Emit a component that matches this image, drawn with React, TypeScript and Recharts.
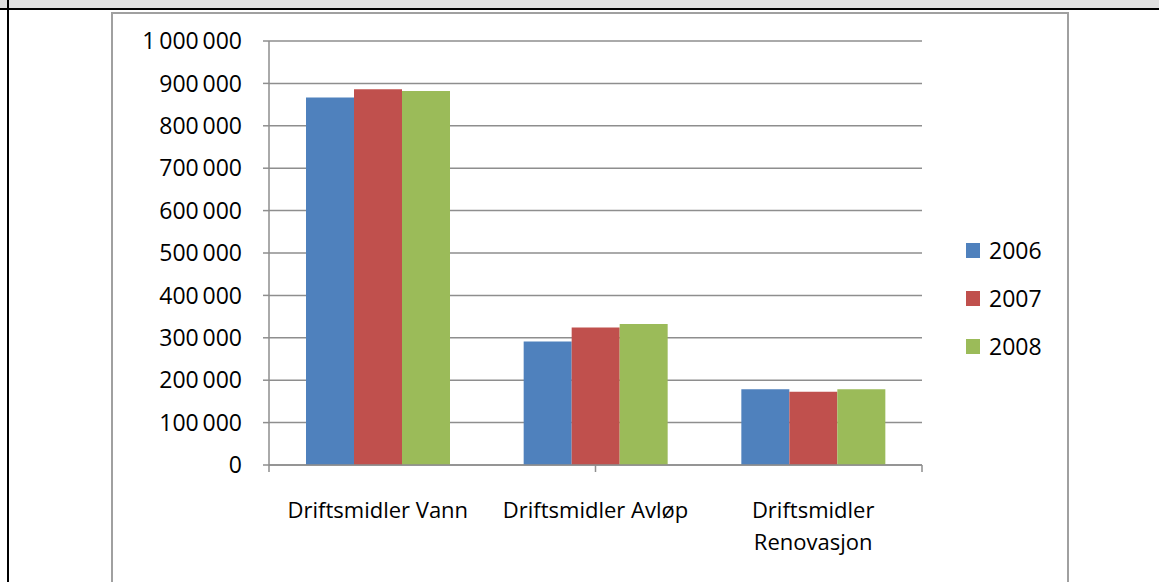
import { Bar, BarChart, CartesianGrid, XAxis, YAxis } from "recharts";

const categories = [
  "Driftsmidler Vann",
  "Driftsmidler Avløp",
  "Driftsmidler Renovasjon",
];
const years = ["2006", "2007", "2008"];
const values2006 = [867000, 291000, 178500];
const values2007 = [886000, 324000, 173000];
const values2008 = [882000, 332500, 178500];
const yTicks = [0, 100000, 200000, 300000, 400000, 500000, 600000, 700000, 800000, 900000, 1000000];
const edgeTicks = [0, 1, 2, 3];

const COLORS = ["#4f81bd", "#c0504d", "#9bbb59"];
const FONT = "'Open Sans', sans-serif";
const GRID = "#8e8e8e";

const rows = categories.map((name, i) => ({
  name,
  y2006: values2006[i],
  y2007: values2007[i],
  y2008: values2008[i],
}));

// thin space as thousands separator, like the Norwegian number format
const formatNumber = (n: number) =>
  String(n).replace(/\B(?=(\d{3})+(?!\d))/g, "\u2009");

const splitLabel = (label: string): string[] => {
  if (label.length <= 20) return [label];
  const cut = label.lastIndexOf(" ");
  return [label.slice(0, cut), label.slice(cut + 1)];
};

const CategoryTick = (props: any) => {
  const { x, y, payload } = props;
  const lines = splitLabel(String(payload.value));
  return (
    <text
      x={x}
      y={y}
      textAnchor="middle"
      fill="#000"
      fontSize={22}
      fontFamily={FONT}
    >
      {lines.map((line, i) => (
        <tspan key={line} x={x} dy={i === 0 ? 52 : 32}>
          {line}
        </tspan>
      ))}
    </text>
  );
};

const EmptyTick = () => <g />;

const YearLegend = () => (
  <div
    style={{
      position: "absolute",
      left: 966,
      top: 226,
      fontFamily: FONT,
      fontSize: 23,
      color: "#000",
    }}
  >
    {years.map((year, i) => (
      <div
        key={year}
        style={{ display: "flex", alignItems: "center", height: 48 }}
      >
        <span
          style={{
            width: 14,
            height: 15,
            background: COLORS[i],
            marginRight: 9,
            display: "inline-block",
          }}
        />
        {year}
      </div>
    ))}
  </div>
);

export default function App() {
  return (
    <div
      style={{
        position: "absolute",
        left: 0,
        top: 0,
        width: 1159,
        height: 582,
        background: "#fff",
        overflow: "hidden",
      }}
    >
      <div
        style={{
          position: "absolute",
          left: 0,
          top: 0,
          width: 1159,
          height: 8,
          background: "#e0e0e0",
        }}
      />
      <div
        style={{
          position: "absolute",
          left: 0,
          top: 8,
          width: 1159,
          height: 2,
          background: "#000",
        }}
      />
      <div
        style={{
          position: "absolute",
          left: 7,
          top: 0,
          width: 2,
          height: 582,
          background: "#000",
        }}
      />
      <div
        style={{
          position: "absolute",
          left: 111,
          top: 12,
          width: 954,
          height: 600,
          border: "2px solid #a0a0a0",
        }}
      />
      <div style={{ position: "absolute", left: 0, top: 0 }}>
        <BarChart
          width={1159}
          height={582}
          data={rows}
          margin={{ top: 41, right: 237, left: 149, bottom: 57 }}
          barCategoryGap="17%"
          barGap={0}
        >
          <CartesianGrid
            xAxisId="cat"
            vertical={false}
            stroke={GRID}
            strokeWidth={1.5}
          />
          {/* numeric helper axis: tick marks between the categories */}
          <XAxis
            type="number"
            domain={[0, 3]}
            ticks={edgeTicks}
            interval={0}
            height={1}
            axisLine={{ stroke: GRID, strokeWidth: 1.5 }}
            tick={<EmptyTick />}
            tickSize={7}
            tickLine={{ stroke: GRID, strokeWidth: 1.5 }}
          />
          <XAxis
            xAxisId="cat"
            dataKey="name"
            height={59}
            interval={0}
            tickLine={false}
            tickSize={0}
            tickMargin={0}
            axisLine={false}
            tick={<CategoryTick />}
          />
          <YAxis
            width={120}
            domain={[0, 1000000]}
            ticks={yTicks}
            interval={0}
            tickSize={6}
            tickMargin={21}
            tickFormatter={formatNumber}
            axisLine={{ stroke: GRID, strokeWidth: 1.5 }}
            tickLine={{ stroke: GRID, strokeWidth: 1.5 }}
            tick={{ fill: "#000", fontSize: 23, fontFamily: FONT }}
          />
          <Bar xAxisId="cat" dataKey="y2006" name="2006" fill={COLORS[0]} isAnimationActive={false} />
          <Bar xAxisId="cat" dataKey="y2007" name="2007" fill={COLORS[1]} isAnimationActive={false} />
          <Bar xAxisId="cat" dataKey="y2008" name="2008" fill={COLORS[2]} isAnimationActive={false} />
        </BarChart>
      </div>
      <YearLegend />
    </div>
  );
}
